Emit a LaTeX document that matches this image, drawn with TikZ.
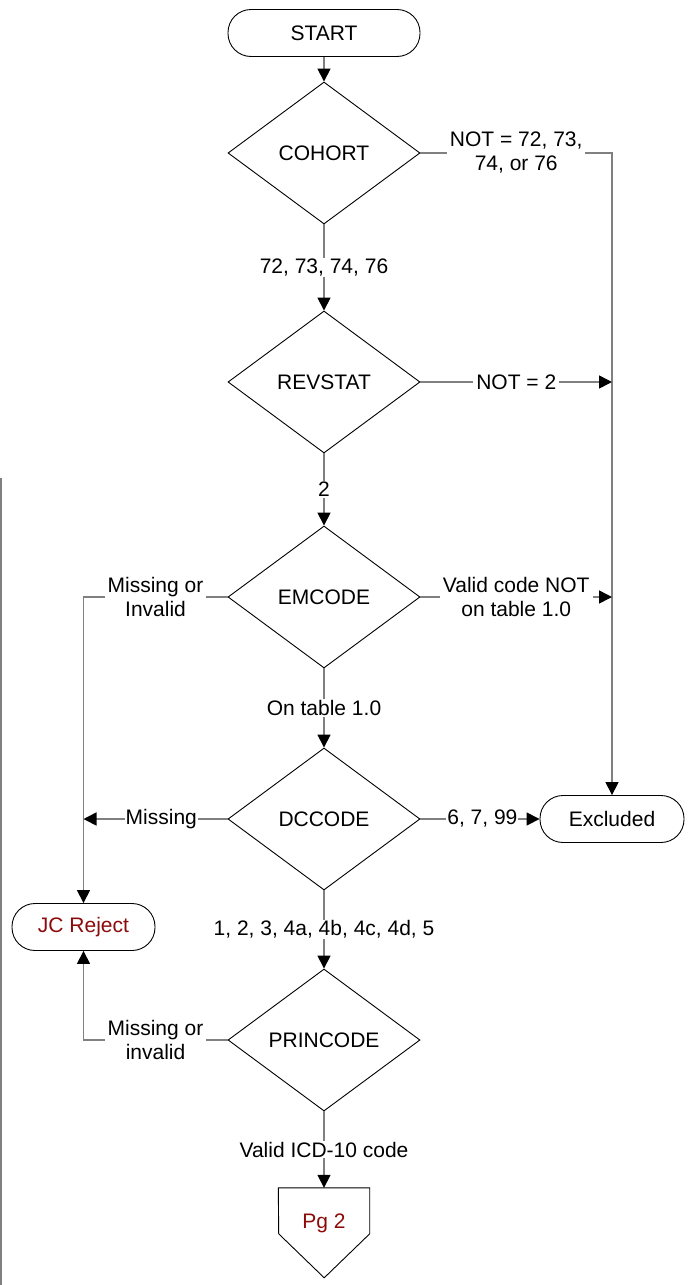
\documentclass[tikz,border=0pt]{standalone}
\usepackage{fontspec}
\setmainfont{Liberation Sans}
\usetikzlibrary{arrows.meta,shapes.geometric}
\definecolor{linegray}{RGB}{128,128,128}
\definecolor{darkred}{RGB}{140,10,10}
\begin{document}
\begin{tikzpicture}[x=1pt,y=-1pt,
  every node/.style={font=\fontsize{21}{24}\selectfont},
  shp/.style={draw=black, line width=0.9pt, fill=white, inner sep=0pt},
  dec/.style={shp, diamond, minimum width=192pt, minimum height=142pt, aspect=1.35},
  term/.style={shp, rectangle, rounded corners=23pt, minimum width=192pt, minimum height=47pt},
  termsmall/.style={term, minimum width=144pt},
  con/.style={draw=linegray, line width=1.6pt},
  arr/.style={con, -{Triangle[length=13pt,width=13pt,color=black,fill=black]}},
  lbl/.style={fill=white, inner xsep=3pt, inner ysep=1pt, align=center},
  redtext/.style={text=darkred}
]
\useasboundingbox (0,0) rectangle (688,1285);

% page edge line
\draw[draw=linegray, line width=1.2pt] (1,478) -- (1,1285);

% nodes
\node[term] (start) at (324,33) {START};
\node[dec] (cohort) at (324,153) {COHORT};
\node[dec] (revstat) at (324,382) {REVSTAT};
\node[dec] (em) at (324,597) {EMCODE};
\node[dec] (dc) at (324,819) {DCCODE};
\node[dec] (pc) at (324,1040) {PRINCODE};
\node[termsmall] (excl) at (612,819) {Excluded};
\node[term, minimum width=143pt, redtext] (jc) at (83.5,927) {JC Reject};
\node[inner sep=0pt, minimum width=91pt, minimum height=70pt, redtext] (pg) at (324,1223) {Pg 2};
\draw[line width=0.9pt] (pg.north west) -- (pg.north east) -- ++(0,46) -- ++(-45.5,44) -- ++(-45.5,-44) -- cycle;

% junction coordinates
\coordinate (j2) at (612,382);
\coordinate (j3) at (612,597);
\coordinate (mj) at (83.5,819);

% connectors
\draw[arr] (start) -- (cohort);
\draw[arr] (cohort.east) -| node[lbl,pos=0.25]{NOT = 72, 73,\\74, or 76} (excl.north);
\draw[arr] (cohort) -- node[lbl]{72, 73, 74, 76} (revstat);
\draw[arr] (revstat.east) -- node[lbl]{NOT = 2} (j2);
\draw[arr] (revstat) -- node[lbl]{2} (em);
\draw[arr] (em.west) -| node[lbl,pos=0.25]{Missing or\\Invalid} (jc.north);
\draw[arr] (em.east) -- node[lbl]{Valid code NOT\\on table 1.0} (j3);
\draw[arr] (em) -- node[lbl]{On table 1.0} (dc);
\draw[arr] (dc.west) -- node[lbl,pos=0.46,inner xsep=1pt]{Missing} (mj);
\draw[arr] (dc.east) -- node[lbl,pos=0.52,inner xsep=1pt]{6, 7, 99} (excl.west);
\draw[arr] (dc) -- node[lbl]{1, 2, 3, 4a, 4b, 4c, 4d, 5} (pc);
\draw[arr] (pc.west) -| node[lbl,pos=0.25]{Missing or\\invalid} (jc.south);
\draw[arr] (pc) -- node[lbl]{Valid ICD-10 code} (pg);
\end{tikzpicture}
\end{document}
